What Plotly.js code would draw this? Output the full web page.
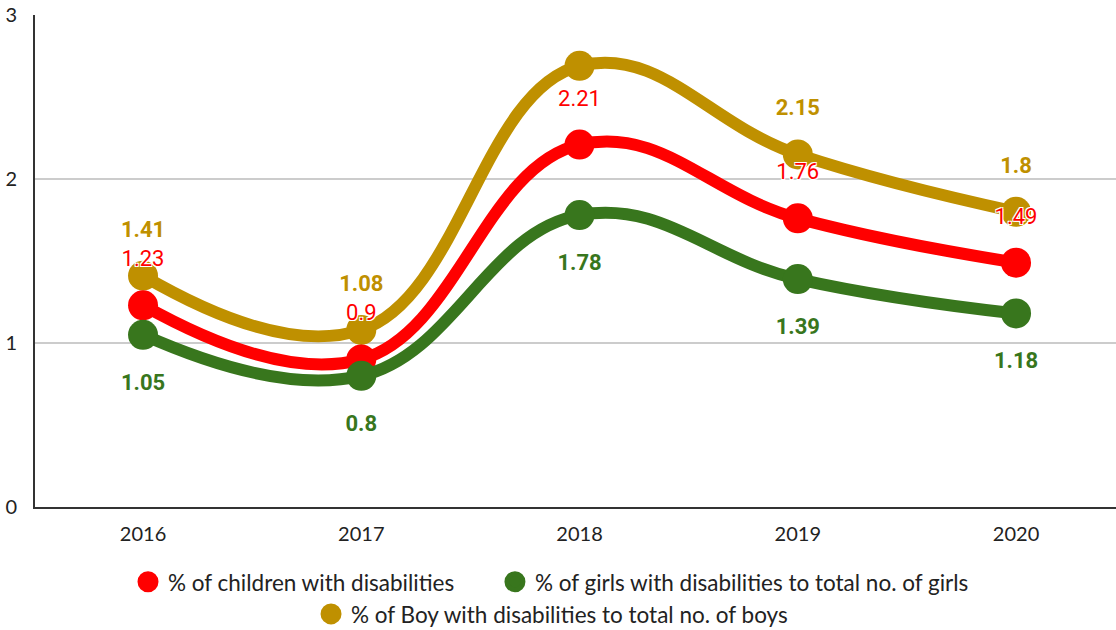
<!DOCTYPE html>
<html>
<head>
<meta charset="utf-8">
<script src="https://cdn.plot.ly/plotly-3.0.1.min.js"></script>
<style>html,body{margin:0;padding:0;background:#fff;}#chart{width:1116px;height:630px;}</style>
</head>
<body>
<div id="chart"></div>
<script>
var years = ['2016', '2017', '2018', '2019', '2020'];
var childrenPct = [1.23, 0.9, 2.21, 1.76, 1.49];
var girlsPct = [1.05, 0.8, 1.78, 1.39, 1.18];
var boysPct = [1.41, 1.08, 2.69, 2.15, 1.8];
var boysLabelShown = [true, true, false, true, true];

var names = {
  children: '% of children with disabilities',
  girls: '% of girls with disabilities to total no. of girls',
  boys: '% of Boy with disabilities to total no. of boys'
};
var colors = { children: '#ff0000', girls: '#38761d', boys: '#bf9000' };

function lineTrace(y, color) {
  return {
    x: years, y: y, type: 'scatter', mode: 'lines+markers',
    line: { color: color, width: 12, shape: 'spline', smoothing: 1.2 },
    marker: { color: color, size: 30 },
    showlegend: false, hoverinfo: 'x+y', cliponaxis: false
  };
}
function fmt(v) { return String(v); }
function labelTrace(y, text, color, pos, bold, shadow, gap) {
  return {
    x: years, y: y, type: 'scatter', mode: 'markers+text',
    marker: { size: gap, opacity: 0, color: color },
    text: text, textposition: pos,
    textfont: { family: 'Roboto, Arial, sans-serif', size: 22, color: color, weight: bold ? 'bold' : 'normal', shadow: shadow },
    showlegend: false, hoverinfo: 'skip', cliponaxis: false
  };
}
function legendTrace(name, color, legend) {
  return {
    x: [null], y: [null], type: 'scatter', mode: 'markers', name: name,
    marker: { color: color, size: 18, line: { color: color, width: 5 } }, legend: legend, showlegend: true
  };
}

var halo = '1px 1px 0 #fff, -1px -1px 0 #fff, 1px -1px 0 #fff, -1px 1px 0 #fff';
var data = [
  lineTrace(boysPct, colors.boys),
  lineTrace(childrenPct, colors.children),
  lineTrace(girlsPct, colors.girls),
  labelTrace(boysPct, boysPct.map(function (v, i) { return boysLabelShown[i] ? fmt(v) : ''; }), colors.boys, 'top center', true, 'none', 52),
  labelTrace(childrenPct, childrenPct.map(fmt), colors.children, 'top center', false, halo, 52),
  labelTrace(girlsPct, girlsPct.map(fmt), colors.girls, 'bottom center', true, 'none', 60),
  legendTrace(names.children, colors.children, 'legend'),
  legendTrace(names.girls, colors.girls, 'legend3'),
  legendTrace(names.boys, colors.boys, 'legend2')
];

var uiFont = 'Lato, "Open Sans", Arial, sans-serif';
var legendFont = { family: uiFont, size: 22.5, color: '#222' };
function legendBox(x, y) {
  return {
    orientation: 'h', xref: 'container', yref: 'container', x: x, xanchor: 'left',
    y: y, yanchor: 'middle', font: legendFont, itemsizing: 'trace', bgcolor: 'rgba(0,0,0,0)'
  };
}
var layout = {
  width: 1116, height: 630,
  margin: { l: 35, r: 0, t: 15, b: 123 },
  paper_bgcolor: '#fff', plot_bgcolor: '#fff',
  font: { family: uiFont, size: 20, color: '#222' },
  xaxis: {
    type: 'category', range: [-0.495, 4.458], showgrid: false, zeroline: false,
    showline: true, linecolor: '#333', linewidth: 2, ticks: '', ticklabelstandoff: 8,
    tickfont: { family: uiFont, size: 20, color: '#222' }
  },
  yaxis: {
    range: [0, 3], tickvals: [0, 1, 2, 3], showgrid: true, gridcolor: '#cccccc', gridwidth: 1.5,
    zeroline: false, showline: true, linecolor: '#333', linewidth: 2, ticks: '', ticklabelstandoff: 12,
    tickfont: { family: uiFont, size: 20, color: '#222' }
  },
  legend: legendBox(0.1147, 0.076),
  legend3: legendBox(0.4435, 0.076),
  legend2: legendBox(0.2787, 0.025),
  showlegend: true
};

Plotly.newPlot('chart', data, layout, { displayModeBar: false });
</script>
</body>
</html>
